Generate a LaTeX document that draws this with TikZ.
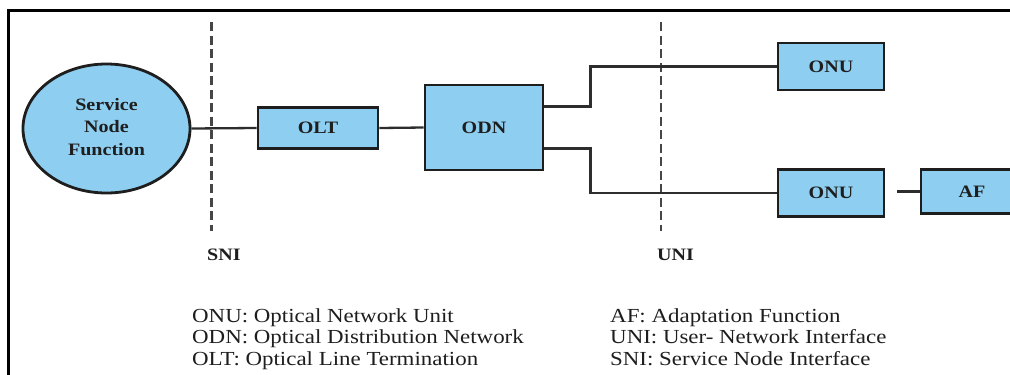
\documentclass[tikz,border=0pt]{standalone}
\usepackage{fontspec}
\setmainfont{Liberation Serif}
\usetikzlibrary{shapes.geometric}
\newcommand{\widetext}[1]{\scalebox{1.15}[1]{#1}}
\definecolor{boxfill}{RGB}{142,206,240}
\definecolor{ink}{RGB}{30,30,30}
\definecolor{wire}{RGB}{45,45,45}
\definecolor{dashgray}{RGB}{70,70,70}
\tikzset{
  frameline/.style={line width=3bp, draw=black},
  blk/.style={draw=ink, line width=2.8bp, fill=boxfill, inner sep=0pt, text=ink,
    font=\fontsize{17.5}{22.5}\selectfont\bfseries, align=center},
  snfshape/.style={blk, ellipse, minimum width=167bp, minimum height=129bp},
  boxshape/.style={blk, rectangle},
  conn/.style={draw=wire, line width=2.3bp},
  ifline/.style={draw=dashgray, line width=2.6bp, dash pattern=on 9bp off 4.5bp},
  iflabel/.style={anchor=base west, inner sep=0pt, text=ink, font=\fontsize{17.5}{20}\selectfont\bfseries},
  legend/.style={anchor=base west, inner sep=0pt, text=ink, font=\fontsize{20}{22}\selectfont}
}
\begin{document}
\begin{tikzpicture}[x=1bp,y=-1bp]
\useasboundingbox (0,0) rectangle (1010,374);
\clip (0,0) rectangle (1010,374);
\fill[white] (0,0) rectangle (1010,374);
\draw[frameline] (8,10) rectangle (1030,390);

% interface lines
\coordinate (sniTop) at (211.5,22);
\coordinate (sniBot) at (211.5,231);
\coordinate (uniTop) at (661,22);
\coordinate (uniBot) at (661,231);
\draw[ifline] (sniTop) -- (sniBot);
\draw[ifline] (uniTop) -- (uniBot);

% nodes
\node[snfshape] (snf) at (106.5,128.5) {\widetext{\begin{tabular}{@{}c@{}}Service\\Node\\Function\end{tabular}}};
\node[boxshape, minimum width=120bp, minimum height=41bp] (olt) at (318,128) {\widetext{OLT}};
\node[boxshape, minimum width=118bp, minimum height=85bp] (odn) at (484,127.5) {\widetext{ODN}};
\node[boxshape, minimum width=106bp, minimum height=47bp] (onu1) at (831,66.5) {\widetext{ONU}};
\node[boxshape, minimum width=106bp, minimum height=47bp] (onu2) at (831,193) {\widetext{ONU}};
\node[boxshape, minimum width=102bp, minimum height=44bp] (af) at (972,191.5) {\widetext{AF}};

% connectors
\draw[conn] (snf.east) -- (olt.west);
\draw[conn] (olt.east) -- (odn.west);
\draw[conn] ([yshift=21bp]odn.east) -- ++(46,0) |- (onu1.west);
\draw[conn] ([yshift=-21bp]odn.east) -- ++(46,0) |- (onu2.west);
\coordinate (afStart) at (897,191.5);
\draw[conn] (afStart) -- (af.west);

% interface labels
\node[iflabel] (sniLabel) at (207,260) {\widetext{SNI}};
\node[iflabel] (uniLabel) at (657,260) {\widetext{UNI}};

% legend
\node[legend] (l1) at (192,322) {\widetext{ONU: Optical Network Unit}};
\node[legend] (l2) at (192,343.5) {\widetext{ODN: Optical Distribution Network}};
\node[legend] (l3) at (192,365) {\widetext{OLT: Optical Line Termination}};
\node[legend] (r1) at (610,322) {\widetext{AF: Adaptation Function}};
\node[legend] (r2) at (610,343.5) {\widetext{UNI: User- Network Interface}};
\node[legend] (r3) at (610,365) {\widetext{SNI: Service Node Interface}};
\end{tikzpicture}
\end{document}
